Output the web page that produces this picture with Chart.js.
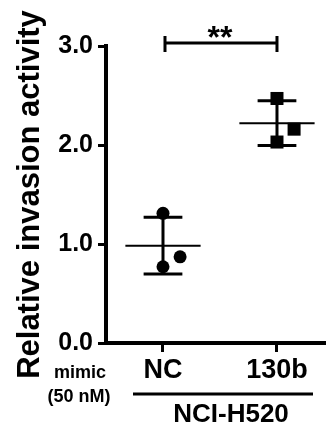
<!DOCTYPE html>
<html>
<head>
<meta charset="utf-8">
<script src="https://cdn.jsdelivr.net/npm/chart.js@4.4.1/dist/chart.umd.min.js"></script>
<style>
  body { margin: 0; background: #fff; }
  canvas { display: block; }
</style>
</head>
<body>
<canvas id="myChart" width="326" height="428"></canvas>
<script>
// data
var groups = ['NC', '130b'];
var ncValues = [1.31, 0.77, 0.87];
var mirValues = [2.47, 2.03, 2.16];
var jitter = [0, 0, 0.15];          // sideways spread of replicate dots (x units)
var yTicks = [0, 1, 2, 3];
var sigLabel = '**';

var FONT = '"Liberation Sans", Arial, Helvetica, sans-serif';

var mean = function(a) {
    var s = 0;
    a.forEach(function(v) { s += v; });
    return s / a.length;
};
var sd = function(a) {
    var m = mean(a), s = 0;
    a.forEach(function(v) { s += (v - m) * (v - m); });
    return Math.sqrt(s / (a.length - 1));
};
var toPoints = function(vals, gx) {
    return vals.map(function(v, i) { return { x: gx + jitter[i], y: v }; });
};

var series = [ncValues, mirValues];

var extras = {
    id: 'extras',
    beforeDatasetsDraw: function(chart) {
        var ctx = chart.ctx, xs = chart.scales.x, ys = chart.scales.y;
        ctx.save();
        ctx.strokeStyle = '#000';
        series.forEach(function(vals, i) {
            var gx = i + 1, m = mean(vals), s = sd(vals);
            // mean line
            ctx.lineWidth = 2;
            ctx.beginPath();
            ctx.moveTo(xs.getPixelForValue(gx - 0.33), ys.getPixelForValue(m));
            ctx.lineTo(xs.getPixelForValue(gx + 0.33), ys.getPixelForValue(m));
            ctx.stroke();
            // sd bar
            ctx.lineWidth = 3;
            var px = xs.getPixelForValue(gx);
            ctx.beginPath();
            ctx.moveTo(px, ys.getPixelForValue(m + s));
            ctx.lineTo(px, ys.getPixelForValue(m - s));
            [m + s, m - s].forEach(function(v) {
                ctx.moveTo(xs.getPixelForValue(gx - 0.17), ys.getPixelForValue(v));
                ctx.lineTo(xs.getPixelForValue(gx + 0.17), ys.getPixelForValue(v));
            });
            ctx.stroke();
        });
        ctx.restore();
    },
    afterDraw: function(chart) {
        var ctx = chart.ctx, xs = chart.scales.x, ys = chart.scales.y;
        var x1 = xs.getPixelForValue(1), x2 = xs.getPixelForValue(2);
        ctx.save();
        ctx.strokeStyle = '#000';
        ctx.fillStyle = '#000';
        // significance bracket
        var by = ys.getPixelForValue(3) - 3;
        ctx.lineWidth = 3;
        ctx.beginPath();
        ctx.moveTo(x1 + 2, by); ctx.lineTo(x2, by);
        ctx.moveTo(x1 + 2, by - 7); ctx.lineTo(x1 + 2, by + 9);
        ctx.moveTo(x2, by - 7); ctx.lineTo(x2, by + 9);
        ctx.stroke();
        ctx.font = 'bold 32px ' + FONT;
        ctx.textAlign = 'center';
        ctx.textBaseline = 'alphabetic';
        ctx.fillText(sigLabel, (x1 + x2) / 2, by + 5);

        // treatment labels under the axis
        ctx.font = 'bold 18px ' + FONT;
        ctx.textBaseline = 'middle';
        ctx.fillText('mimic', 80, 373);
        ctx.fillText('(50 nM)', 79, 397);

        ctx.lineWidth = 3;
        ctx.beginPath();
        ctx.moveTo(133, 394); ctx.lineTo(313, 394);
        ctx.stroke();
        ctx.font = 'bold 26px ' + FONT;
        ctx.fillText('NCI-H520', 231, 415);
        ctx.restore();
    }
};

var myChart = new Chart(document.getElementById('myChart'), {
    type: 'scatter',
    data: {
        datasets: [{
            data: toPoints(ncValues, 1),
            pointStyle: 'circle',
            pointRadius: 6.5,
            backgroundColor: '#000',
            borderWidth: 0
        }, {
            data: toPoints(mirValues, 2),
            pointStyle: 'rect',
            pointRadius: 9.2,
            backgroundColor: '#000',
            borderWidth: 0
        }]
    },
    options: {
        responsive: false,
        animation: false,
        layout: { autoPadding: false, padding: { top: 46, left: 0, right: 0, bottom: 0 } },
        plugins: {
            legend: { display: false },
            tooltip: { enabled: false }
        },
        scales: {
            x: {
                type: 'linear',
                min: 0.5,
                max: 2.43,
                afterBuildTicks: function(scale) {
                    scale.ticks = groups.map(function(g, i) { return { value: i + 1 }; });
                },
                afterFit: function(scale) {
                    scale.height = 85;
                    scale.paddingLeft = 0;
                    scale.paddingRight = 0;
                },
                ticks: {
                    callback: function(v) { return groups[v - 1]; },
                    color: '#000',
                    font: { family: FONT, size: 27, weight: 'bold' },
                    padding: 2,
                    maxRotation: 0,
                    autoSkip: false
                },
                grid: { drawOnChartArea: false, drawTicks: true, tickLength: 9, color: '#000', lineWidth: 3 },
                border: { display: true, color: '#000', width: 4 }
            },
            y: {
                min: 0,
                max: 3,
                afterBuildTicks: function(scale) {
                    scale.ticks = yTicks.map(function(v) { return { value: v }; });
                },
                afterFit: function(scale) { scale.width = 106; },
                ticks: {
                    callback: function(v) { return v.toFixed(1); },
                    color: '#000',
                    font: { family: FONT, size: 25, weight: 'bold' },
                    padding: 5
                },
                grid: { drawOnChartArea: false, drawTicks: true, tickLength: 8, color: '#000', lineWidth: 3 },
                border: { display: true, color: '#000', width: 4 },
                title: {
                    display: true,
                    text: 'Relative invasion activity',
                    color: '#000',
                    font: { family: FONT, size: 31, weight: 'bold' },
                    padding: { top: 12, bottom: 0 }
                }
            }
        }
    },
    plugins: [extras]
});
</script>
</body>
</html>
